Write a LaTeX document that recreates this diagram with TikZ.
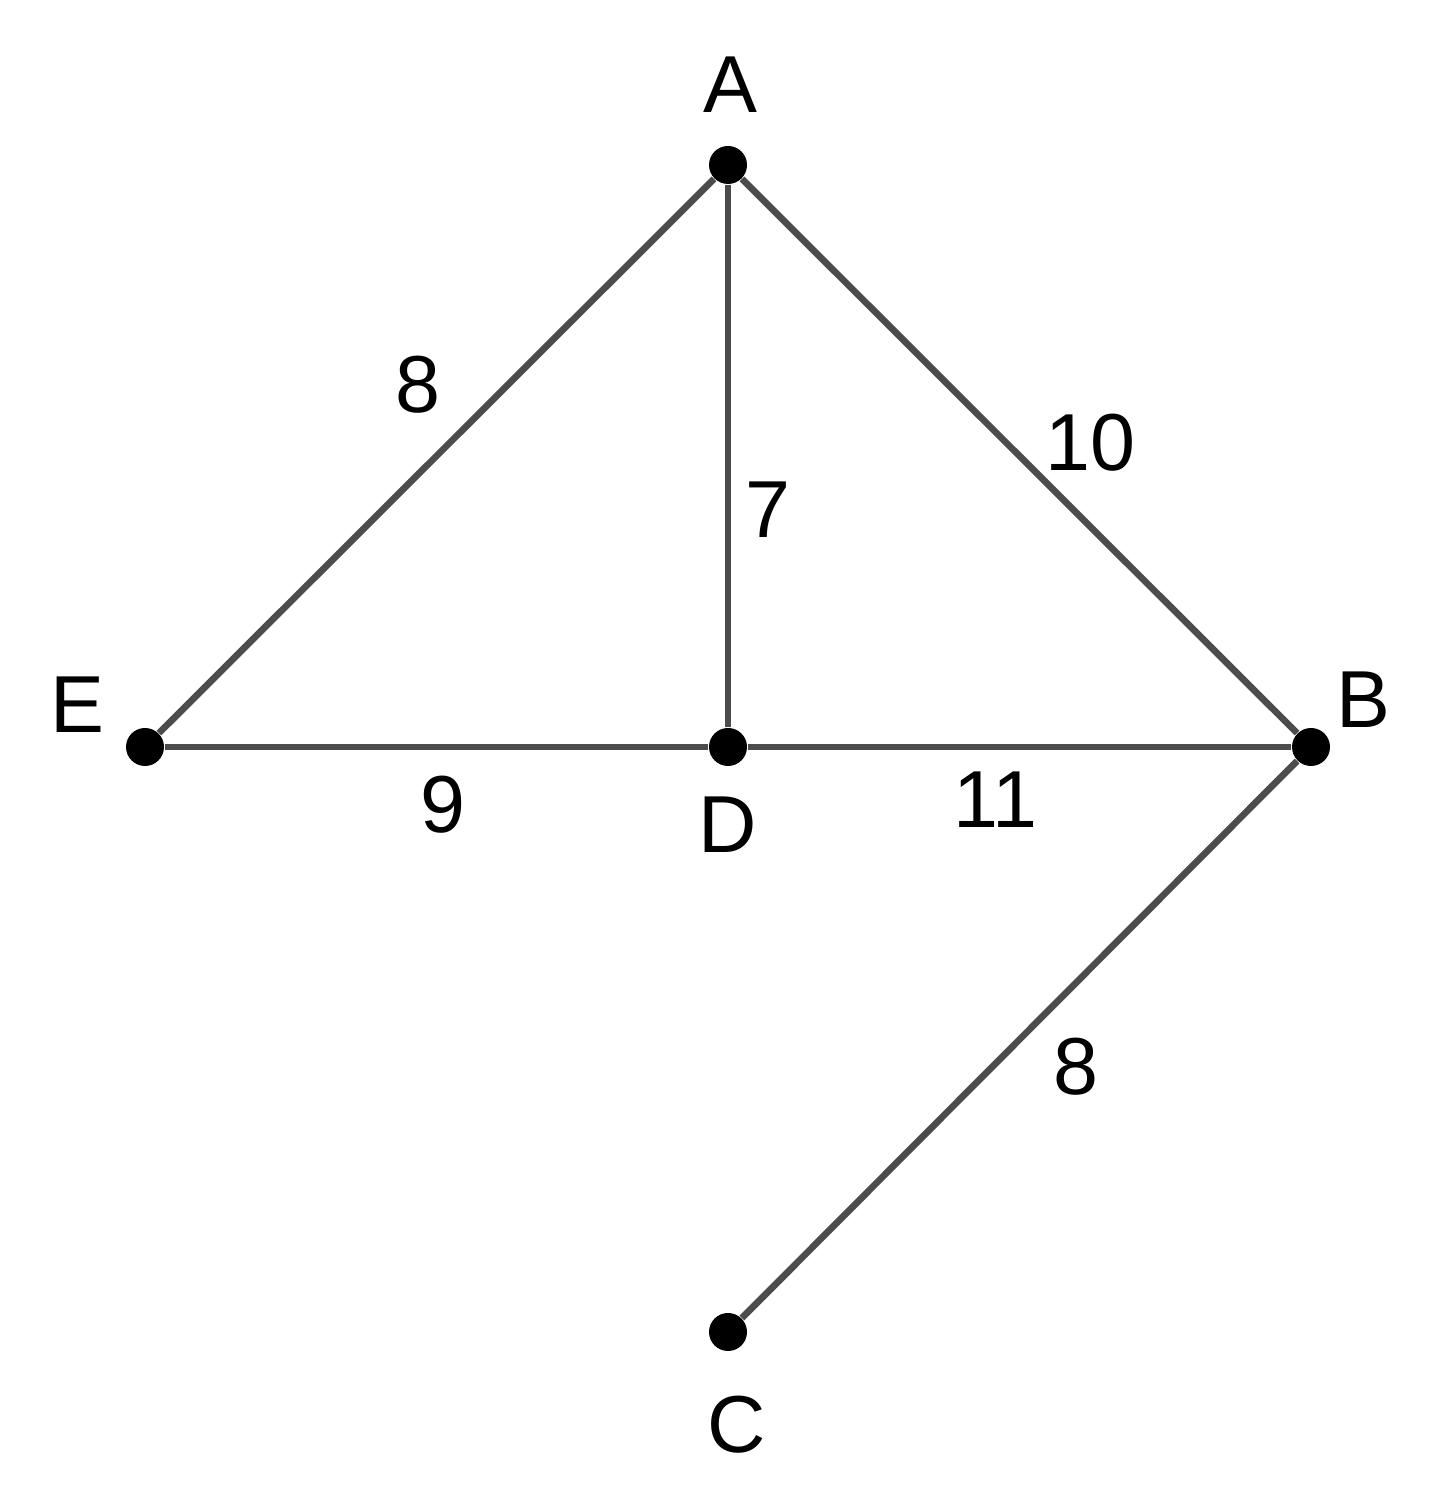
\documentclass[tikz,border=0pt]{standalone}
\usepackage{fontspec}
\setmainfont{Liberation Sans}
\usepackage{tikz}
\usetikzlibrary{positioning}

\begin{document}
\begin{tikzpicture}[vertex/.style={circle, fill=black, inner sep=0pt, minimum size=0.38cm},
                    lbl/.style={font=\fontsize{23}{27}\selectfont},
                    link/.style={draw=black!70, line width=1.9pt}]
   \useasboundingbox (0,0) rectangle (14.53,14.93);

   \node[vertex] (A) at (7.28,13.28) {};
   \node[vertex] (E) at (1.45,7.46)  {};
   \node[vertex] (D) at (7.28,7.46)  {};
   \node[vertex] (B) at (13.11,7.46) {};
   \node[vertex] (C) at (7.28,1.61)  {};

   \node[lbl] (A_l) at (7.30,14.08) {A};
   \node[lbl] (E_l) at (0.77,7.88)  {E};
   \node[lbl] (B_l) at (13.63,7.93) {B};
   \node[lbl] (D_l) at (7.28,6.68)  {D};
   \node[lbl] (C_l) at (7.37,0.68)  {C};

   \node[lbl] (AE_w) at (4.18,11.08) {8};
   \node[lbl] (AB_w) at (10.90,10.50) {10};
   \node[lbl] (AD_w) at (7.68,9.83)  {7};
   \node[lbl] (ED_w) at (4.43,6.88)  {9};
   \node[lbl] (DB_w) at (9.95,6.93)  {11};
   \node[lbl] (BC_w) at (10.76,4.26) {8};

    \path[link]
    (A) edge (E)
    (A) edge (D)
    (A) edge (B)
    (E) edge (D)
    (D) edge (B)
    (B) edge (C);
\end{tikzpicture}
\end{document}
